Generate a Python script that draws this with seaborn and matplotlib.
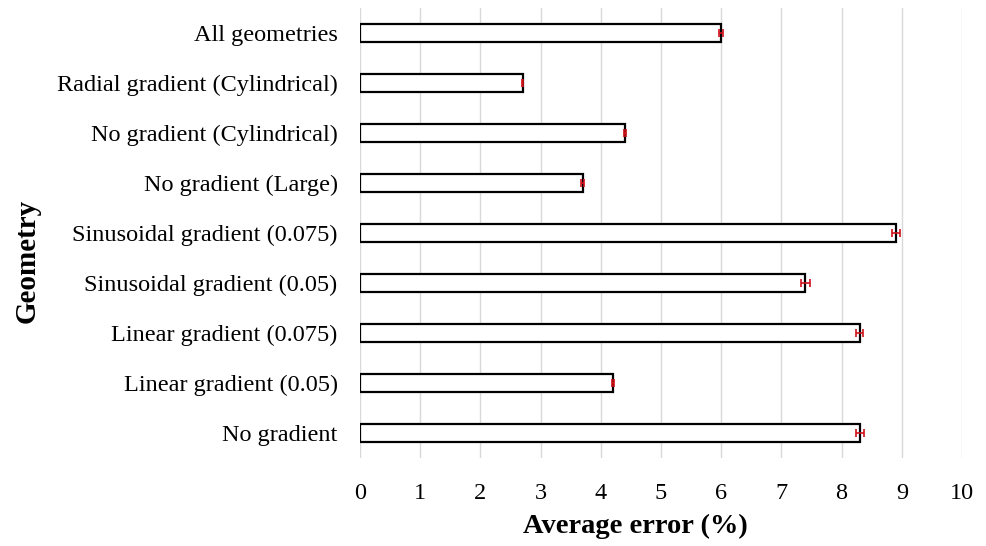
import numpy as np
import pandas as pd
import seaborn as sns
import matplotlib.pyplot as plt

# values (top to bottom)
geometries = [
    "All geometries",
    "Radial gradient (Cylindrical)",
    "No gradient (Cylindrical)",
    "No gradient (Large)",
    "Sinusoidal gradient (0.075)",
    "Sinusoidal gradient (0.05)",
    "Linear gradient (0.075)",
    "Linear gradient (0.05)",
    "No gradient",
]
avg_error = [6.0, 2.7, 4.4, 3.7, 8.9, 7.4, 8.3, 4.2, 8.3]
err_sd = [0.03, 0.01, 0.02, 0.025, 0.07, 0.07, 0.06, 0.02, 0.065]

df = pd.DataFrame({"Geometry": geometries, "Average error (%)": avg_error})

sns.set_style("white")
plt.rcParams['font.family'] = ['Liberation Serif', 'DejaVu Serif']
plt.rcParams['text.color'] = 'black'
plt.rcParams['xtick.color'] = 'black'
plt.rcParams['ytick.color'] = 'black'
plt.rcParams['axes.labelcolor'] = 'black'

fig = plt.figure(figsize=(9.87, 5.46), dpi=100)
ax = fig.add_axes([0.3647, 0.1612, 0.61, 0.8241])

sns.barplot(data=df, x="Average error (%)", y="Geometry", orient="h",
            color="white", edgecolor="black", linewidth=1.6,
            width=0.35, errorbar=None, ax=ax, zorder=3)
ax.errorbar(avg_error, np.arange(len(geometries)), xerr=err_sd, fmt="none",
            ecolor="#d0121b", elinewidth=1.2, capsize=3, capthick=1.2, zorder=4)

ax.set_xlim(0, 10)
ax.set_xticks(range(0, 11))
ax.set_ylim(len(geometries) - 0.5, -0.5)
ax.grid(axis="x", color="#d9d9d9", linewidth=1, zorder=0)
ax.set_axisbelow(True)
for s in ax.spines.values():
    s.set_visible(False)
ax.tick_params(axis="both", length=0, labelsize=17.5)
ax.tick_params(axis="x", pad=18)
ax.tick_params(axis="y", pad=16)

ax.set_xlabel("Average error (%)", fontsize=20.5, fontweight="bold")
ax.set_ylabel("Geometry", fontsize=21, fontweight="bold")
ax.xaxis.label.set_va("center")
ax.xaxis.set_label_coords(0.457, -0.153)
ax.yaxis.label.set_va("center")
ax.yaxis.label.set_ha("center")
ax.yaxis.set_label_coords(-0.553, 0.438)

fig.savefig("out.png", dpi=100)
